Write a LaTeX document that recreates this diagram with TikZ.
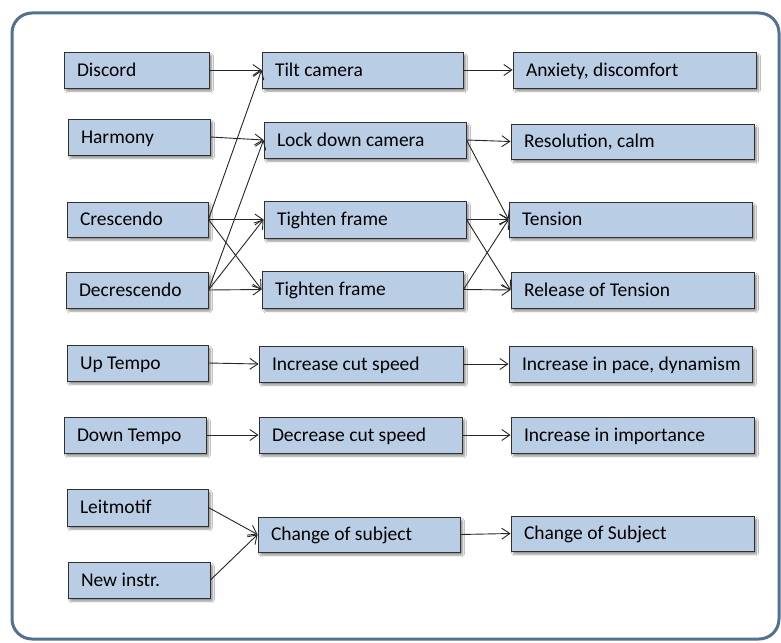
\documentclass[tikz,border=0pt]{standalone}
\usepackage{fontspec}
\setmainfont{Carlito}
\usetikzlibrary{arrows.meta,shadows.blur}

\definecolor{boxfill}{HTML}{B9CDE5}
\definecolor{frameblue}{HTML}{52708F}
\definecolor{edgegray}{HTML}{303030}

% \bx{name}{left}{top}{right}{bottom}{label}
\newcommand{\bx}[6]{%
  \pgfmathsetmacro\bxw{#4-#2}%
  \pgfmathsetmacro\bxh{#5-#3}%
  \pgfmathsetmacro\bxt{#4-#2-26}%
  \node[cell, minimum width=\bxw pt, minimum height=\bxh pt]
    (#1) at ({(#2+#4)/2},{(#3+#5)/2}) {\makebox[\bxt pt][l]{#6}};}

\begin{document}
\begin{tikzpicture}[x=1pt, y=-1pt,
  cell/.style={draw=edgegray, line width=0.9pt, fill=boxfill,
    inner xsep=13pt, inner ysep=0pt,
    font=\fontsize{19.5}{22}\selectfont, text height=12.6pt, text depth=0pt,
    blur shadow={shadow xshift=2.5pt, shadow yshift=-3pt,
      shadow blur steps=5, shadow opacity=45, shadow blur extra rounding=1pt}},
  conn/.style={draw=black!85, line width=0.9pt,
    -{Straight Barb[length=8pt, width=11pt, line width=0.9pt]}}]

\useasboundingbox (0,0) rectangle (781,642);
\fill[white] (0,0) rectangle (781,642);

% outer panel
\draw[frameblue, line width=3pt, rounded corners=20pt, fill=white]
  (12,13) rectangle (779,639);

% sources
\bx{discord}{64}{52}{209}{88}{Discord}
\bx{harmony}{68}{119}{210}{155}{Harmony}
\bx{cresc}{67}{202}{208}{237}{Crescendo}
\bx{decresc}{66}{272}{208}{308}{Decrescendo}
\bx{uptempo}{67}{345}{208}{381}{Up Tempo}
\bx{downtempo}{64}{417}{206}{453}{Down Tempo}
\bx{leit}{67}{489}{208}{526}{Leitmotif}
\bx{newinstr}{68}{562}{210}{598}{New instr.}

% camera techniques
\bx{tilt}{262}{52}{463}{88}{Tilt camera}
\bx{lock}{264}{122}{466}{158}{Lock down camera}
\bx{tightA}{264}{201}{466}{238}{Tighten frame}
\bx{tightB}{262}{271}{463}{308}{Tighten frame}
\bx{inccut}{259}{346}{463}{382}{Increase cut speed}
\bx{deccut}{259}{417}{462}{453}{Decrease cut speed}
\bx{chsubj}{258}{517}{460}{552}{Change of subject}

% effects
\bx{anx}{513}{52}{756}{88}{Anxiety, discomfort}
\bx{resol}{511}{124}{754}{159}{Resolution, calm}
\bx{tension}{509}{202}{752}{237}{Tension}
\bx{release}{511}{272}{754}{308}{Release of Tension}
\bx{pace}{509}{346}{752}{382}{Increase in pace, dynamism}
\bx{import}{511}{417}{754}{453}{Increase in importance}
\bx{chSubj}{511}{516}{754}{551}{Change of Subject}

% music -> camera
\draw[conn] (discord.east) -- (tilt.west);
\draw[conn] (harmony.east) -- (lock.west);
\draw[conn] (cresc.east) -- (tilt.west);
\draw[conn] (cresc.east) -- (tightA.west);
\draw[conn] (cresc.east) -- (tightB.west);
\draw[conn] (decresc.east) -- (lock.west);
\draw[conn] (decresc.east) -- (tightA.west);
\draw[conn] (decresc.east) -- (tightB.west);
\draw[conn] (uptempo.east) -- (inccut.west);
\draw[conn] (downtempo.east) -- (deccut.west);
\draw[conn] (leit.east) -- (chsubj.west);
\draw[conn] (newinstr.east) -- (chsubj.west);

% camera -> effect
\draw[conn] (tilt.east) -- (anx.west);
\draw[conn] (lock.east) -- (resol.west);
\draw[conn] (lock.east) -- (tension.west);
\draw[conn] (tightA.east) -- (tension.west);
\draw[conn] (tightA.east) -- (release.west);
\draw[conn] (tightB.east) -- (tension.west);
\draw[conn] (tightB.east) -- (release.west);
\draw[conn] (inccut.east) -- (pace.west);
\draw[conn] (deccut.east) -- (import.west);
\draw[conn] (chsubj.east) -- (chSubj.west);
\end{tikzpicture}
\end{document}
